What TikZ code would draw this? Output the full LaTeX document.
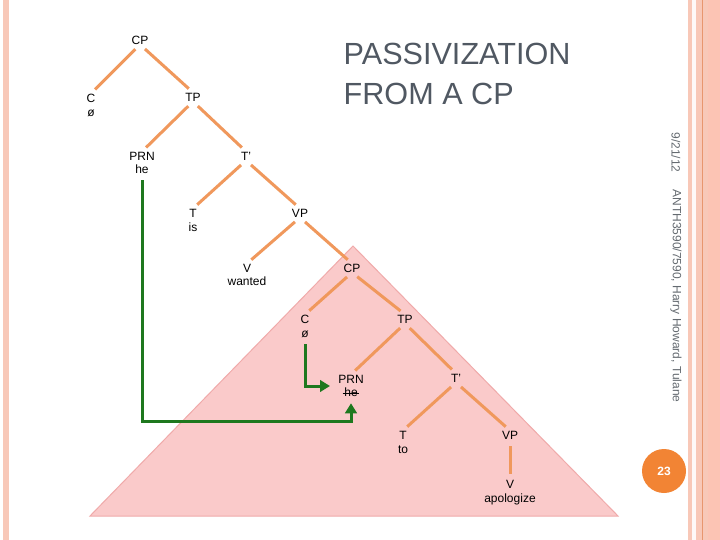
\documentclass[tikz,border=0pt]{standalone}
\usepackage{fontspec}
\setmainfont{Liberation Sans}
\usetikzlibrary{arrows.meta}
\definecolor{branch}{RGB}{240,152,92}
\definecolor{movegreen}{RGB}{30,120,30}
\definecolor{trifill}{RGB}{250,202,202}
\definecolor{triborder}{RGB}{240,170,170}
\definecolor{stripe}{RGB}{248,200,184}
\definecolor{stripedark}{RGB}{232,150,110}
\definecolor{stripesat}{RGB}{252,196,180}
\definecolor{titlegray}{RGB}{80,88,98}
\definecolor{sidegray}{RGB}{100,106,112}
\definecolor{pageorange}{RGB}{242,132,52}
\begin{document}
\begin{tikzpicture}[x=1pt,y=-1pt,
  cat/.style={font=\fontsize{12}{14}\selectfont, inner xsep=1pt, inner ysep=0pt, text height=8.6pt, text depth=0pt},
  word/.style={font=\fontsize{12}{14}\selectfont, inner sep=0pt, text height=8.6pt, text depth=2.5pt},
  branchline/.style={draw=branch, line width=3pt, shorten <=6.7pt, shorten >=5.7pt},
  move/.style={draw=movegreen, line width=3pt, -{Triangle[length=10pt,width=11.5pt]}},
  sidetext/.style={font=\fontsize{12}{14}\selectfont, text=sidegray, rotate=-90, inner sep=0pt}]
\useasboundingbox (0,0) rectangle (720,540);
\fill[white] (0,0) rectangle (720,540);
% side stripes
\fill[stripe] (3,0) rectangle (9,540);
\fill[stripe] (688,0) rectangle (692,540);
\fill[white!90!stripe] (692,0) rectangle (696,540);
\fill[stripe] (696,0) rectangle (702,540);
\fill[stripedark] (702,0) rectangle (703.3,540);
\fill[stripe] (703.3,0) rectangle (708,540);
\fill[stripesat] (708,0) rectangle (720,540);
% triangle
\filldraw[fill=trifill, draw=triborder, line width=1pt] (353,246) -- (90,516) -- (618,516) -- cycle;
% title
\node[anchor=north west, inner sep=0pt, align=left, text=titlegray, font=\fontsize{30.6}{40}\selectfont] (title) at (343.5,42.8) {PASSIVIZATION\\FROM A CP};
% side texts
\node[sidetext] (date) at (676,152.5) {9/21/12};
\node[sidetext] (course) at (676,296) {ANTH3590/7590, Harry Howard, Tulane};
% page number
\node[circle, fill=pageorange, minimum size=44pt, inner sep=0pt, text=white, font=\bfseries\fontsize{12}{14}\selectfont] (page) at (664,471) {23};
% upper tree
\node[cat] (cp1) at (140,40) {CP};
\node[cat] (c1) at (91,98) {C};
\node[word] (c1w) at (91,113) {ø};
\node[cat] (tp1) at (193,97) {TP};
\node[cat] (prn1) at (142,156) {PRN};
\node[word] (he1) at (142,170) {he};
\node[cat] (tb1) at (246,156) {T'};
\node[cat] (t1) at (193,213) {T};
\node[word] (t1w) at (193,228) {is};
\node[cat] (vp1) at (300,213) {VP};
\node[cat] (v1) at (247,268) {V};
\node[word] (v1w) at (247,282) {wanted};
% lower tree
\node[cat] (cp2) at (352,268) {CP};
\node[cat] (c2) at (305,319) {C};
\node[word] (c2w) at (305,334) {ø};
\node[cat] (tp2) at (405,319) {TP};
\node[cat] (prn2) at (351,379) {PRN};
\node[word] (he2) at (351,393) {he};
\node[cat] (tb2) at (456,378) {T'};
\node[cat] (t2) at (403,435) {T};
\node[word] (t2w) at (403,450) {to};
\node[cat] (vp2) at (510,435) {VP};
\node[cat] (v2) at (510,484) {V};
\node[word] (v2w) at (510,499) {apologize};
% branches
\draw[branchline] (cp1.south) -- (c1.north);
\draw[branchline] (cp1.south) -- (tp1.north);
\draw[branchline] (tp1.south) -- (prn1.north);
\draw[branchline] (tp1.south) -- (tb1.north);
\draw[branchline] (tb1.south) -- (t1.north);
\draw[branchline] (tb1.south) -- (vp1.north);
\draw[branchline] (vp1.south) -- (v1.north);
\draw[branchline] (vp1.south) -- (cp2.north);
\draw[branchline] (cp2.south) -- (c2.north);
\draw[branchline] (cp2.south) -- (tp2.north);
\draw[branchline] (tp2.south) -- (prn2.north);
\draw[branchline] (tp2.south) -- (tb2.north);
\draw[branchline] (tb2.south) -- (t2.north);
\draw[branchline] (tb2.south) -- (vp2.north);
\draw[branchline] (vp2.south) -- (v2.north);
% strike-through of the lower he
\draw[line width=1pt, shorten <=-1.5pt, shorten >=-1.5pt] (he2.west) -- (he2.east);
% movement arrows
\coordinate (bend1) at (351,421);
\coordinate (g2) at (330,386);
\draw[move, shorten <=4.5pt, shorten >=4.5pt] (he1.south) |- (bend1) -- (he2.south);
\draw[move, shorten <=4.5pt] (c2w.south) |- (g2);
\end{tikzpicture}
\end{document}
